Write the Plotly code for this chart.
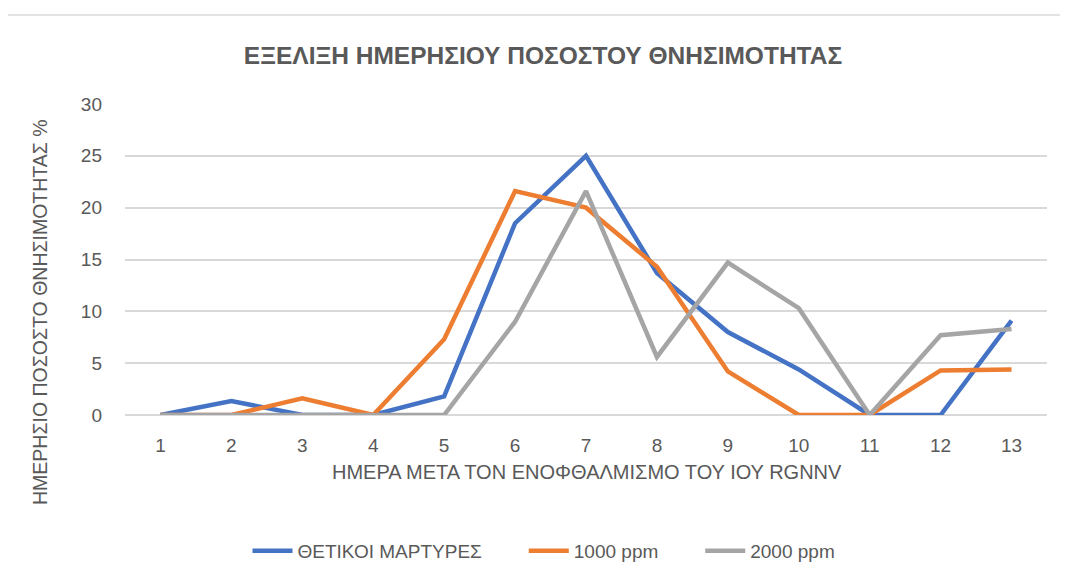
import plotly.graph_objects as go

# Days after inoculation
days = [str(d) for d in range(1, 14)]

# Daily mortality % per treatment
positive_control = [0, 1.35, 0, 0, 1.8, 18.5, 25.0, 13.7, 8.0, 4.4, 0, 0, 9.1]
ppm_1000 = [0, 0, 1.6, 0, 7.3, 21.6, 20.0, 14.3, 4.2, 0, 0, 4.3, 4.4]
ppm_2000 = [0, 0, 0, 0, 0, 9.0, 21.6, 5.6, 14.7, 10.3, 0, 7.7, 8.3]

series = [
    ("ΘΕΤΙΚΟΙ ΜΑΡΤΥΡΕΣ", positive_control, "#4472C4"),
    ("1000 ppm", ppm_1000, "#ED7D31"),
    ("2000 ppm", ppm_2000, "#A5A5A5"),
]

# page body has an 8px margin, so the figure is drawn 8px in from the window edge
O = 8
W, H = 1068 - O, 584 - O
L, R, T, B = 125 - O, 21, 104 - O, 169
pw, ph = W - L - R, H - T - B


def px_x(x):
    return (x - O - L) / pw


def px_y(y):
    return (H - B - (y - O)) / ph


text_col = "#595959"
font_fam = "Liberation Sans, Arial, sans-serif"
pad = "\u00a0" * 7

fig = go.Figure()
for i, (name, vals, col) in enumerate(series):
    fig.add_trace(go.Scatter(
        x=days, y=vals, name=name + (pad if i < len(series) - 1 else ""),
        mode="lines", line=dict(color=col, width=4.5),
    ))

# outer chart border (left/top visible)
fig.add_shape(
    type="rect", xref="paper", yref="paper",
    x0=px_x(7), x1=px_x(1100), y0=px_y(620), y1=px_y(15),
    line=dict(color="#d9d9d9", width=1.5), layer="below",
)

# axis titles
fig.add_annotation(
    text="ΗΜΕΡΗΣΙΟ ΠΟΣΟΣΤΟ ΘΝΗΣΙΜΟΤΗΤΑΣ %", textangle=-90,
    xref="paper", yref="paper", x=px_x(40), y=px_y(312),
    xanchor="center", yanchor="middle", showarrow=False,
    font=dict(size=19.5, color=text_col),
)
fig.add_annotation(
    text="ΗΜΕΡΑ ΜΕΤΑ ΤΟΝ ΕΝΟΦΘΑΛΜΙΣΜΟ ΤΟΥ ΙΟΥ RGNNV",
    xref="paper", yref="paper", x=px_x(587), y=px_y(472),
    xanchor="center", yanchor="middle", showarrow=False,
    font=dict(size=20, color=text_col),
)

fig.update_layout(
    width=W, height=H,
    margin=dict(l=L, r=R, t=T, b=B),
    paper_bgcolor="white", plot_bgcolor="white",
    font=dict(family=font_fam, color=text_col, size=18),
    title=dict(
        text="<b>ΕΞΕΛΙΞΗ ΗΜΕΡΗΣΙΟΥ ΠΟΣΟΣΤΟΥ ΘΝΗΣΙΜΟΤΗΤΑΣ</b>",
        x=(543 - O) / W, xanchor="center", y=1 - (55 - O) / H, yanchor="middle",
        font=dict(size=24.5, color=text_col),
    ),
    legend=dict(
        orientation="h", x=px_x(544), xanchor="center",
        y=px_y(551), yanchor="middle",
        font=dict(size=19, color=text_col),
        itemwidth=40,
    ),
    xaxis=dict(
        type="category", range=[-0.5, 12.5],
        showgrid=False, zeroline=False, showline=False,
        ticks="", ticklabelstandoff=17, tickfont=dict(size=19, color=text_col),
    ),
    yaxis=dict(
        range=[0, 30], dtick=5,
        showgrid=True, gridcolor="#d9d9d9", gridwidth=1.5,
        zeroline=True, zerolinecolor="#d9d9d9", zerolinewidth=1.5,
        ticks="", ticklabelstandoff=22, tickfont=dict(size=19, color=text_col),
    ),
)

fig.write_html("out.html")
